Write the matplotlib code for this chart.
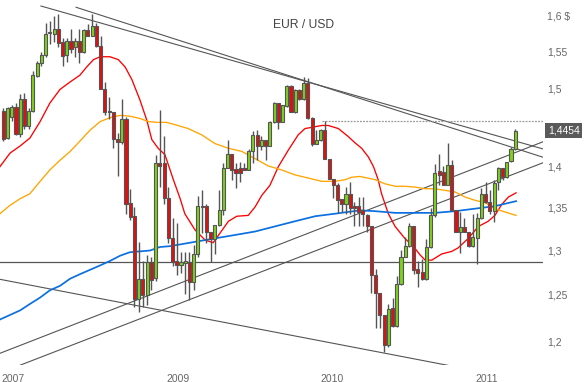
import numpy as np
import matplotlib
matplotlib.use("Agg")
import matplotlib.pyplot as plt
import matplotlib.transforms as mtransforms
from matplotlib.ticker import NullLocator

plt.rcParams['font.family'] = ['Liberation Sans', 'DejaVu Sans']

# EUR/USD candles, one per bar
opens = [1.471, 1.436, 1.463, 1.476, 1.441, 1.486, 1.451, 1.471, 1.517, 1.534,
         1.545, 1.576, 1.575, 1.581, 1.563, 1.546, 1.564, 1.556, 1.565, 1.549,
         1.580, 1.572, 1.585, 1.558, 1.500, 1.471, 1.469, 1.435, 1.431, 1.460,
         1.356, 1.340, 1.245, 1.268, 1.250, 1.287, 1.269, 1.405, 1.405, 1.362,
         1.314, 1.288, 1.283, 1.286, 1.287, 1.264, 1.296, 1.352, 1.352, 1.321,
         1.313, 1.330, 1.348, 1.399, 1.416, 1.397, 1.399, 1.399, 1.396, 1.419,
         1.440, 1.426, 1.434, 1.426, 1.456, 1.481, 1.457, 1.477, 1.504, 1.469,
         1.498, 1.486, 1.508, 1.461, 1.428, 1.433, 1.446, 1.410, 1.385, 1.377,
         1.360, 1.355, 1.367, 1.352, 1.352, 1.347, 1.341, 1.329, 1.272, 1.252,
         1.228, 1.196, 1.235, 1.216, 1.262, 1.292, 1.305, 1.328, 1.279, 1.275,
         1.268, 1.304, 1.341, 1.395, 1.394, 1.378, 1.402, 1.348, 1.322, 1.327,
         1.322, 1.305, 1.314, 1.338, 1.367, 1.357, 1.346, 1.381, 1.398, 1.387,
         1.407, 1.422]
highs = [1.474, 1.476, 1.478, 1.481, 1.493, 1.494, 1.474, 1.524, 1.537, 1.550,
         1.590, 1.593, 1.600, 1.602, 1.569, 1.569, 1.582, 1.569, 1.582, 1.581,
         1.589, 1.603, 1.590, 1.571, 1.509, 1.489, 1.469, 1.442, 1.486, 1.463,
         1.373, 1.351, 1.310, 1.288, 1.295, 1.293, 1.415, 1.472, 1.438, 1.375,
         1.338, 1.332, 1.298, 1.298, 1.298, 1.306, 1.364, 1.372, 1.354, 1.321,
         1.330, 1.372, 1.405, 1.434, 1.416, 1.404, 1.406, 1.404, 1.422, 1.445,
         1.446, 1.439, 1.434, 1.458, 1.483, 1.481, 1.478, 1.505, 1.505, 1.499,
         1.499, 1.515, 1.514, 1.463, 1.446, 1.447, 1.458, 1.410, 1.385, 1.380,
         1.360, 1.375, 1.381, 1.357, 1.363, 1.363, 1.343, 1.329, 1.279, 1.252,
         1.228, 1.240, 1.247, 1.271, 1.301, 1.316, 1.332, 1.329, 1.288, 1.290,
         1.313, 1.350, 1.403, 1.416, 1.401, 1.430, 1.408, 1.348, 1.345, 1.338,
         1.322, 1.343, 1.344, 1.374, 1.381, 1.372, 1.384, 1.400, 1.398, 1.406,
         1.425, 1.448]
lows = [1.432, 1.435, 1.458, 1.440, 1.437, 1.448, 1.448, 1.470, 1.515, 1.531,
        1.543, 1.561, 1.563, 1.557, 1.530, 1.536, 1.548, 1.543, 1.534, 1.548,
        1.571, 1.571, 1.557, 1.499, 1.466, 1.460, 1.423, 1.388, 1.428, 1.343,
        1.336, 1.237, 1.231, 1.237, 1.239, 1.255, 1.265, 1.375, 1.354, 1.309,
        1.282, 1.272, 1.274, 1.251, 1.244, 1.255, 1.293, 1.320, 1.309, 1.287,
        1.296, 1.329, 1.341, 1.398, 1.384, 1.374, 1.381, 1.396, 1.396, 1.404,
        1.408, 1.421, 1.408, 1.426, 1.455, 1.448, 1.457, 1.476, 1.469, 1.468,
        1.485, 1.485, 1.460, 1.426, 1.428, 1.432, 1.410, 1.385, 1.362, 1.344,
        1.345, 1.343, 1.343, 1.328, 1.328, 1.329, 1.322, 1.252, 1.214, 1.214,
        1.188, 1.194, 1.215, 1.215, 1.261, 1.292, 1.304, 1.273, 1.259, 1.267,
        1.267, 1.303, 1.339, 1.377, 1.377, 1.377, 1.346, 1.321, 1.297, 1.321,
        1.304, 1.304, 1.285, 1.337, 1.356, 1.343, 1.333, 1.371, 1.384, 1.386,
        1.406, 1.421]
closes = [1.435, 1.474, 1.476, 1.441, 1.486, 1.451, 1.471, 1.518, 1.535, 1.545,
          1.575, 1.577, 1.581, 1.562, 1.544, 1.564, 1.554, 1.564, 1.549, 1.580,
          1.572, 1.585, 1.558, 1.500, 1.469, 1.469, 1.435, 1.431, 1.460, 1.355,
          1.339, 1.245, 1.268, 1.250, 1.287, 1.266, 1.405, 1.401, 1.362, 1.314,
          1.287, 1.284, 1.287, 1.288, 1.264, 1.296, 1.352, 1.351, 1.321, 1.313,
          1.330, 1.348, 1.399, 1.416, 1.396, 1.392, 1.392, 1.396, 1.419, 1.440,
          1.426, 1.434, 1.426, 1.456, 1.481, 1.457, 1.478, 1.504, 1.469, 1.498,
          1.486, 1.508, 1.461, 1.428, 1.433, 1.446, 1.410, 1.385, 1.377, 1.359,
          1.355, 1.367, 1.350, 1.350, 1.345, 1.343, 1.329, 1.272, 1.252, 1.228,
          1.196, 1.234, 1.216, 1.262, 1.293, 1.305, 1.328, 1.278, 1.274, 1.268,
          1.304, 1.341, 1.392, 1.390, 1.378, 1.402, 1.347, 1.322, 1.327, 1.322,
          1.305, 1.316, 1.338, 1.367, 1.357, 1.346, 1.380, 1.398, 1.387, 1.406,
          1.422, 1.445]

# moving averages, read at points along the lines (x = bar number)
red_x = [-0.8, 1.6, 4.0, 6.3, 8.7, 11.0, 13.4, 15.8, 18.1, 19.7, 21.3, 22.9, 25.2,
         27.2, 28.8, 30.4, 32.3, 33.9, 35.1, 36.6, 38.2, 40.2, 41.8, 42.9, 45.3,
         47.7, 49.6, 51.2, 53.2, 55.2, 57.9, 59.5, 61.1, 63.0, 65.0, 67.4, 69.7,
         71.3, 73.3, 75.3, 76.8, 79.2, 81.5, 83.1, 84.7, 86.3, 87.5, 88.6, 89.4,
         91.0, 92.6, 94.9, 96.9, 98.5, 99.7, 101.3, 103.6, 106.0, 107.5, 109.9,
         112.3, 114.6, 116.2, 117.8, 119.4, 121.2]
red_ma = [1.400, 1.417, 1.426, 1.436, 1.457, 1.481, 1.499, 1.509, 1.518, 1.529,
          1.539, 1.543, 1.543, 1.539, 1.529, 1.512, 1.485, 1.459, 1.434, 1.423,
          1.415, 1.384, 1.361, 1.343, 1.324, 1.312, 1.309, 1.320, 1.334, 1.340,
          1.341, 1.351, 1.365, 1.377, 1.400, 1.421, 1.440, 1.448, 1.450, 1.452,
          1.452, 1.448, 1.438, 1.430, 1.423, 1.412, 1.400, 1.384, 1.367, 1.343,
          1.328, 1.314, 1.305, 1.295, 1.289, 1.289, 1.296, 1.299, 1.303, 1.314,
          1.328, 1.334, 1.341, 1.354, 1.363, 1.368]

orange_x = [-0.8, 1.6, 4.0, 6.3, 8.7, 11.0, 13.4, 15.8, 18.1, 20.5, 22.9, 25.2,
            27.6, 29.9, 32.3, 34.3, 36.3, 38.6, 40.6, 43.7, 46.9, 50.0, 53.2,
            56.4, 59.5, 62.6, 65.8, 68.9, 72.1, 75.3, 78.4, 80.8, 82.3, 84.3,
            87.9, 90.2, 92.6, 94.9, 97.3, 99.7, 102.0, 104.4, 106.8, 109.1,
            111.5, 113.9, 116.2, 118.6, 121.2]
orange_ma = [1.343, 1.353, 1.361, 1.367, 1.382, 1.396, 1.408, 1.419, 1.432, 1.446,
             1.457, 1.462, 1.465, 1.464, 1.461, 1.457, 1.456, 1.456, 1.453, 1.448,
             1.440, 1.429, 1.423, 1.419, 1.410, 1.401, 1.396, 1.390, 1.386, 1.382,
             1.382, 1.384, 1.387, 1.388, 1.384, 1.379, 1.376, 1.376, 1.375, 1.373,
             1.373, 1.371, 1.369, 1.363, 1.359, 1.356, 1.349, 1.345, 1.341]

blue_x = [-0.8, 1.6, 4.0, 6.3, 8.7, 11.0, 13.4, 15.8, 18.1, 20.5, 22.9, 25.2, 27.6,
          29.9, 32.3, 34.7, 37.0, 39.4, 41.8, 45.3, 50.0, 54.8, 59.5, 64.2, 68.9,
          73.7, 78.4, 84.3, 87.9, 92.6, 97.3, 102.0, 106.8, 111.5, 116.2, 121.2]
blue_ma = [1.223, 1.228, 1.233, 1.240, 1.247, 1.255, 1.260, 1.268, 1.273, 1.278,
           1.283, 1.288, 1.294, 1.298, 1.299, 1.300, 1.304, 1.305, 1.307, 1.310,
           1.314, 1.318, 1.322, 1.328, 1.334, 1.340, 1.343, 1.347, 1.346, 1.344,
           1.344, 1.344, 1.346, 1.349, 1.352, 1.358]

# trend lines: (bar, price) start and end
trend_lines = [
    [(8.9, 1.6138), (127.6, 1.4221)],
    [(17.2, 1.6120), (127.6, 1.4117)],
    [(-0.8, 1.1870), (127.6, 1.4313)],
    [(2.1, 1.1714), (127.6, 1.4050)],
    [(-0.8, 1.2673), (108.7, 1.1714)],
]
support_level = 1.2865
prev_high_level = 1.4574
last_price = 1.4454

price_ticks = [1.2, 1.25, 1.3, 1.35, 1.4, 1.5, 1.55, 1.6]
price_labels = ["1,2", "1,25", "1,3", "1,35", "1,4", "1,5", "1,55", "1,6 $"]
year_pos = [2.4, 41.3, 77.6, 114.2]
year_labels = ["2007", "2009", "2010", "2011"]

fig = plt.figure(figsize=(5.87, 3.82), dpi=100)
ax = fig.add_axes([0, 17 / 382, 543 / 587, 365 / 382])
ax.set_yscale('log')

line_col = '#555555'
for (x0, y0), (x1, y1) in trend_lines:
    ax.plot([x0, x1], [y0, y1], color=line_col, lw=0.8, zorder=1)
ax.plot([-0.8, 127.6], [support_level] * 2, color=line_col, lw=0.9, zorder=1)
ax.plot([75.3, 127.6], [prev_high_level] * 2, color='#999999', lw=0.9,
        linestyle=(0, (1.5, 1)), zorder=1)

ax.plot(red_x, red_ma, color='#ff0000', lw=0.95, zorder=2)
ax.plot(orange_x, orange_ma, color='#ffa500', lw=0.95, zorder=2)
ax.plot(blue_x, blue_ma, color='#0a6fe0', lw=1.25, zorder=2)

# candles
o = np.array(opens)
c = np.array(closes)
x = np.arange(len(c))
ax.vlines(x, lows, highs, color=line_col, lw=1.0, zorder=3)
cols = np.where(c >= o, '#7fd11b', '#e01010')
ax.bar(x, c - o, bottom=o, width=0.72, color=cols, edgecolor=line_col,
       linewidth=0.8, zorder=4)

ax.set_xlim(-0.78, 127.56)
ax.set_ylim(1.1748, 1.6224)

for s in ax.spines.values():
    s.set_visible(False)
ax.yaxis.tick_right()
ax.set_yticks(price_ticks)
ax.set_yticklabels(price_labels)
ax.yaxis.set_minor_locator(NullLocator())
ax.tick_params(axis='y', length=0, pad=3, labelsize=7.5, labelcolor='#666666')
ax.set_xticks([])

trans = mtransforms.blended_transform_factory(ax.transData, ax.transAxes)
for p, lab in zip(year_pos, year_labels):
    ax.text(p, -0.037, lab, transform=trans, ha='center', va='center',
            fontsize=7.5, color='#666666', clip_on=False)

ax.text(0.5599, 0.9315, "EUR / USD", transform=ax.transAxes, ha='center',
        va='center', fontsize=8.7, color='#444444')

trans_y = mtransforms.blended_transform_factory(ax.transAxes, ax.transData)
ax.text(1.009, last_price, "1,4454", transform=trans_y, ha='left', va='center',
        fontsize=7.5, color='white', clip_on=False,
        bbox=dict(boxstyle='square,pad=0.25', facecolor='#5a5a5a', edgecolor='none'))

fig.savefig("out.png", dpi=100)
